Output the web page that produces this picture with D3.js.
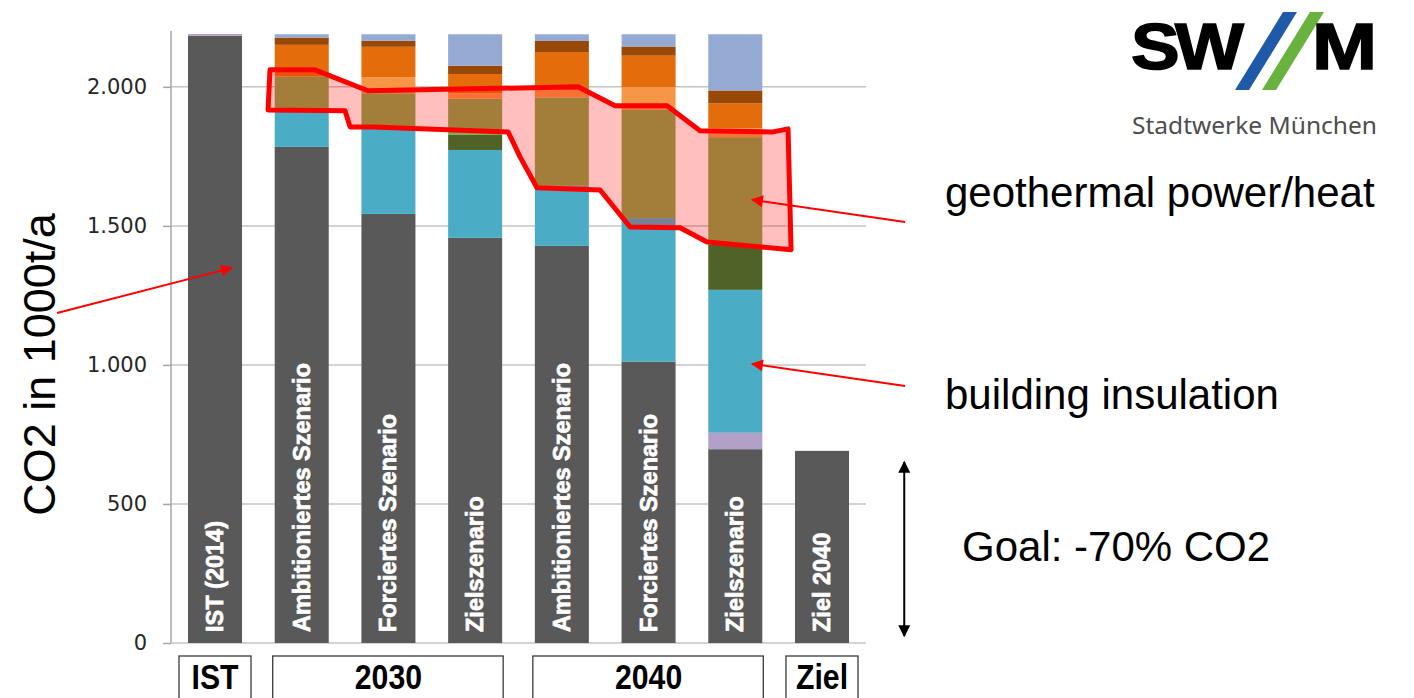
<!DOCTYPE html>
<html>
<head>
<meta charset="utf-8">
<script src="https://cdn.jsdelivr.net/npm/d3@7"></script>
<style>
body{margin:0;background:#fff}
svg{display:block}
</style>
</head>
<body>
<script>
// bars, left to right
const barLabels = ["IST (2014)", "Ambitioniertes Szenario", "Forciertes Szenario", "Zielszenario",
                   "Ambitioniertes Szenario", "Forciertes Szenario", "Zielszenario", "Ziel 2040"];

// stacked segments (1000 t CO2/a), bottom to top
const rest        = [2184, 1784, 1543, 1457, 1428, 1012, 697, 691];
const lavender    = [6, 0, 0, 0, 0, 0, 59, 0];
const insulation  = [0, 140, 314, 316, 216, 516, 514, 0];
const darkGreen   = [0, 0, 0, 54, 0, 0, 162, 0];
const geothermal  = [0, 113, 120, 130, 318, 389, 387, 0];
const lightOrange = [0, 0, 58, 20, 27, 81, 32, 0];
const orange      = [0, 114, 109, 69, 136, 114, 90, 0];
const darkBrown   = [0, 26, 22, 30, 40, 33, 46, 0];
const blueGray    = [0, 12, 23, 113, 24, 44, 202, 0];

const seriesKeys   = ["rest", "lavender", "insulation", "darkGreen", "geothermal", "lightOrange", "orange", "darkBrown", "blueGray"];
const seriesValues = [rest, lavender, insulation, darkGreen, geothermal, lightOrange, orange, darkBrown, blueGray];
const seriesColors = ["#595959", "#b1a0c7", "#4bacc6", "#4f6228", "#84a94f", "#f79646", "#e46c0a", "#984807", "#95aad2"];

const yTicks = [0, 500, 1000, 1500, 2000];

// group boxes under the bars
const groupLabels = ["IST", "2030", "2040", "Ziel"];
const groupFirst  = [0, 1, 4, 7];
const groupLast   = [0, 3, 6, 7];

// red outline around the geothermal share (bar units, value)
const bandU = [0.946, 1.465, 2.076, 4.498, 4.925, 5.525, 5.905, 6.747, 6.92, 6.955, 5.986, 5.675, 5.098, 4.752, 4.025, 3.829, 3.691, 2.134, 1.869, 1.811, 0.923];
const bandV = [2061, 2061, 1986, 2000, 1932, 1932, 1842, 1838, 1849, 1414, 1442, 1493, 1496, 1629, 1637, 1748, 1838, 1856, 1856, 1914, 1917];

const width = 1414, height = 698;

const svg = d3.select("body").append("svg")
    .attr("width", width)
    .attr("height", height);

const x = d3.scaleBand()
    .domain(d3.range(barLabels.length))
    .range([171, 866])
    .paddingInner(0.377)
    .paddingOuter(0.196);

const y = d3.scaleLinear()
    .domain([0, 2190])
    .range([643, 34]);

// continuous position in "bar steps", for annotations
const xu = d3.scaleLinear()
    .domain([0, 1])
    .range([x(0), x(0) + x.step()]);

const de = d3.formatLocale({decimal: ",", thousands: ".", grouping: [3], currency: ["", "€"]});
const fmt = de.format(",");

// gridlines
svg.append("g")
    .selectAll("line")
    .data(yTicks.filter(d => d > 0))
    .join("line")
    .attr("x1", 171).attr("x2", 866)
    .attr("y1", d => y(d)).attr("y2", d => y(d))
    .attr("stroke", "#c4c4c4")
    .attr("stroke-width", 1.5);

// y axis
const yAxis = svg.append("g")
    .attr("transform", "translate(171,0)")
    .call(d3.axisLeft(y).tickValues(yTicks).tickFormat(fmt).tickSize(8).tickPadding(16));
yAxis.select(".domain").attr("stroke", "#a6a6a6").attr("stroke-width", 1.5)
    .attr("d", `M0,${y(0)}V31`);
yAxis.selectAll(".tick line").attr("stroke", "#a6a6a6").attr("stroke-width", 1.5);
yAxis.selectAll(".tick text")
    .attr("font-family", "DejaVu Sans, Verdana, sans-serif")
    .attr("font-size", 21)
    .attr("fill", "#262626");

// baseline
svg.append("line")
    .attr("x1", 171).attr("x2", 866)
    .attr("y1", y(0)).attr("y2", y(0))
    .attr("stroke", "#c4c4c4")
    .attr("stroke-width", 1.5);

// stacked bars
const table = barLabels.map((d, i) => {
    const row = {i: i};
    seriesKeys.forEach((k, j) => row[k] = seriesValues[j][i]);
    return row;
});
const stacked = d3.stack().keys(seriesKeys)(table);

svg.append("g")
    .selectAll("g")
    .data(stacked)
    .join("g")
    .attr("fill", (d, j) => seriesColors[j])
    .selectAll("rect")
    .data(d => d.filter(s => s[1] > s[0]))
    .join("rect")
    .attr("x", d => x(d.data.i))
    .attr("width", x.bandwidth())
    .attr("y", d => y(d[1]))
    .attr("height", d => y(d[0]) - y(d[1]));

// bar labels, white, rotated
svg.append("g")
    .selectAll("text")
    .data(barLabels)
    .join("text")
    .attr("transform", (d, i) => `translate(${x(i) + x.bandwidth() / 2 + 8},${y(0) - 11}) rotate(-90)`)
    .attr("font-family", "Liberation Sans, Arial, sans-serif")
    .attr("font-weight", "bold")
    .attr("font-size", 23.5)
    .attr("fill", "#fff")
    .attr("stroke", "#fff")
    .attr("stroke-width", 0.7)
    .text(d => d);

// group boxes
const gb = svg.append("g")
    .selectAll("g")
    .data(groupLabels)
    .join("g");
gb.append("rect")
    .attr("x", (d, i) => x(groupFirst[i]) - (groupFirst[i] === groupLast[i] ? 9 : 2))
    .attr("width", (d, i) => x(groupLast[i]) + x.bandwidth() - x(groupFirst[i]) + (groupFirst[i] === groupLast[i] ? 18 : 3))
    .attr("y", 656)
    .attr("height", 60)
    .attr("fill", "none")
    .attr("stroke", "#3a3a3a")
    .attr("stroke-width", 1.3);
gb.append("text")
    .attr("transform", (d, i) => `translate(${(x(groupFirst[i]) + x(groupLast[i]) + x.bandwidth()) / 2},689) scale(0.84,1)`)
    .attr("text-anchor", "middle")
    .attr("font-family", "Liberation Sans, Arial, sans-serif")
    .attr("font-weight", "bold")
    .attr("font-size", 36)
    .attr("fill", "#000")
    .text(d => d);

// y title
svg.append("text")
    .attr("transform", `translate(55,${(y(0) + y(2190)) / 2 + 26}) rotate(-90)`)
    .attr("text-anchor", "middle")
    .attr("font-family", "Liberation Sans, Arial, sans-serif")
    .attr("font-size", 45)
    .attr("fill", "#000")
    .text("CO2 in 1000t/a");

// geothermal band outline
svg.append("path")
    .datum(bandU.map((u, i) => [xu(u), y(bandV[i])]))
    .attr("d", d => d3.line()(d) + "Z")
    .attr("fill", "rgba(255,0,0,0.25)")
    .attr("stroke", "#ff0000")
    .attr("stroke-width", 5)
    .attr("stroke-linejoin", "round");

// arrows
const defs = svg.append("defs");
[["redHead", "#ff0000"], ["blackHead", "#000"]].forEach(([id, c]) => {
    defs.append("marker")
        .attr("id", id)
        .attr("viewBox", "0 0 10 10")
        .attr("refX", 9).attr("refY", 5)
        .attr("markerUnits", "userSpaceOnUse")
        .attr("markerWidth", 16).attr("markerHeight", 12)
        .attr("orient", "auto-start-reverse")
        .append("path")
        .attr("d", "M0,0L10,5L0,10Z")
        .attr("fill", c);
});

const arrowFrom = [[-1.51, 1187], [8.27, 1514], [8.27, 924]];
const arrowTo   = [[0.507, 1349], [6.505, 1594], [6.505, 1004]];
svg.append("g")
    .selectAll("line")
    .data(arrowFrom)
    .join("line")
    .attr("x1", d => xu(d[0])).attr("y1", d => y(d[1]))
    .attr("x2", (d, i) => xu(arrowTo[i][0])).attr("y2", (d, i) => y(arrowTo[i][1]))
    .attr("stroke", "#ff0000")
    .attr("stroke-width", 2)
    .attr("marker-end", "url(#redHead)");

// goal double arrow
svg.append("line")
    .attr("x1", xu(8.26)).attr("x2", xu(8.26))
    .attr("y1", y(651)).attr("y2", y(25))
    .attr("stroke", "#000")
    .attr("stroke-width", 2)
    .attr("marker-start", "url(#blackHead)")
    .attr("marker-end", "url(#blackHead)");

// annotation texts
const noteText = ["geothermal power/heat", "building insulation", "Goal: -70% CO2"];
const noteX = [945, 945, 962];
const noteY = [207, 409, 561];
svg.append("g")
    .selectAll("text")
    .data(noteText)
    .join("text")
    .attr("x", (d, i) => noteX[i])
    .attr("y", (d, i) => noteY[i])
    .attr("font-family", "Liberation Sans, Arial, sans-serif")
    .attr("font-size", 42)
    .attr("fill", "#000")
    .text(d => d);

// SWM logo
const logo = svg.append("g");
logo.append("text")
    .attr("transform", "translate(1131,69) scale(1.14,1)")
    .attr("font-family", "Liberation Sans, Arial, sans-serif")
    .attr("font-weight", "bold")
    .attr("font-size", 64)
    .attr("letter-spacing", -4)
    .attr("fill", "#000")
    .attr("stroke", "#000")
    .attr("stroke-width", 1.5)
    .text("SW");
logo.append("path")
    .attr("d", "M1235,90L1249,90L1297,12L1283,12Z")
    .attr("fill", "#1f5aa8");
logo.append("path")
    .attr("d", "M1262,90L1276,90L1324,12L1310,12Z")
    .attr("fill", "#6ab23e");
logo.append("text")
    .attr("transform", "translate(1312,69) scale(1.22,1)")
    .attr("font-family", "Liberation Sans, Arial, sans-serif")
    .attr("font-weight", "bold")
    .attr("font-size", 64)
    .attr("fill", "#000")
    .attr("stroke", "#000")
    .attr("stroke-width", 1.5)
    .text("M");
logo.append("text")
    .attr("x", 1132).attr("y", 134)
    .attr("font-family", "Noto Sans, Open Sans, sans-serif")
    .attr("font-size", 24)
    .attr("textLength", 245)
    .attr("lengthAdjust", "spacingAndGlyphs")
    .attr("fill", "#4d4d4d")
    .text("Stadtwerke München");
</script>
</body>
</html>
